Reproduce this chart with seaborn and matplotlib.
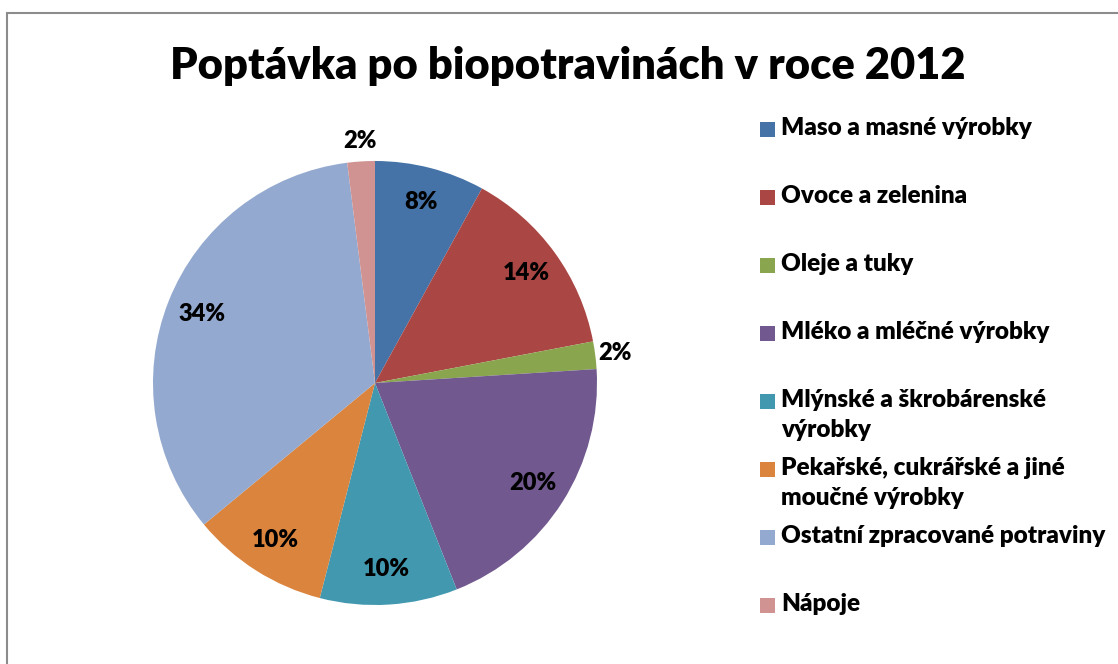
import numpy as np
import matplotlib
matplotlib.use('Agg')
import matplotlib.pyplot as plt
import seaborn as sns
from matplotlib.patches import Rectangle

# --- data ---
categories = ['Maso a masné výrobky', 'Ovoce a zelenina', 'Oleje a tuky',
              'Mléko a mléčné výrobky', 'Mlýnské a škrobárenské\nvýrobky',
              'Pekařské, cukrářské a jiné\nmoučné výrobky',
              'Ostatní zpracované potraviny', 'Nápoje']
shares = [8, 14, 2, 20, 10, 10, 34, 2]
colors = ['#4572A7', '#AA4643', '#89A54E', '#71588F',
          '#4198AF', '#DB843D', '#93A9CF', '#D19392']
title = 'Poptávka po biopotravinách v roce 2012'

sns.set_style('white')
plt.rcParams['font.family'] = ['Lato', 'DejaVu Sans']

W, H = 1118, 664
fig = plt.figure(figsize=(W / 100, H / 100), dpi=100)

# chart frame (only left and top edges visible in the reference)
fig.patches.append(Rectangle((7 / W, -0.1), 1.2, (H - 13) / H + 0.1,
                             transform=fig.transFigure, fill=False,
                             edgecolor='#8c8c8c', linewidth=1.5))

fig.text(568 / W, 1 - 66 / H, title, ha='center', va='center',
         fontsize=31.3, fontweight='heavy', color='black')

# pie axes: centre (375, 383), radius 222 px
cx, cy, r = 375, 383, 222
ax = fig.add_axes([(cx - r) / W, 1 - (cy + r) / H, 2 * r / W, 2 * r / H])
wedges, _ = ax.pie(shares, colors=colors, startangle=90, counterclock=False,
                   wedgeprops=dict(linewidth=0))
ax.set_xlim(-1, 1)
ax.set_ylim(-1, 1)
ax.set_aspect('equal')
ax.axis('off')

for w, v in zip(wedges, shares):
    ang = np.deg2rad((w.theta1 + w.theta2) / 2)
    dist = 1.09 if v <= 2 else 0.84
    ax.text(dist * np.cos(ang), dist * np.sin(ang), f'{v}%', ha='center',
            va='center', fontsize=17, fontweight='heavy', color='black')

# legend, Excel style: equal slots, marker aligned with first line
for i, (lab, col) in enumerate(zip(categories, colors)):
    y = 129 + 68 * i
    fig.patches.append(Rectangle((760 / W, 1 - (y + 8) / H), 15 / W, 15 / H,
                                 transform=fig.transFigure, facecolor=col,
                                 edgecolor='none'))
    fig.text(781 / W, 1 - (y - 12) / H, lab, ha='left', va='top',
             fontsize=17.5, fontweight='heavy', color='black', linespacing=1.45)

fig.savefig('out.png', dpi=100)
